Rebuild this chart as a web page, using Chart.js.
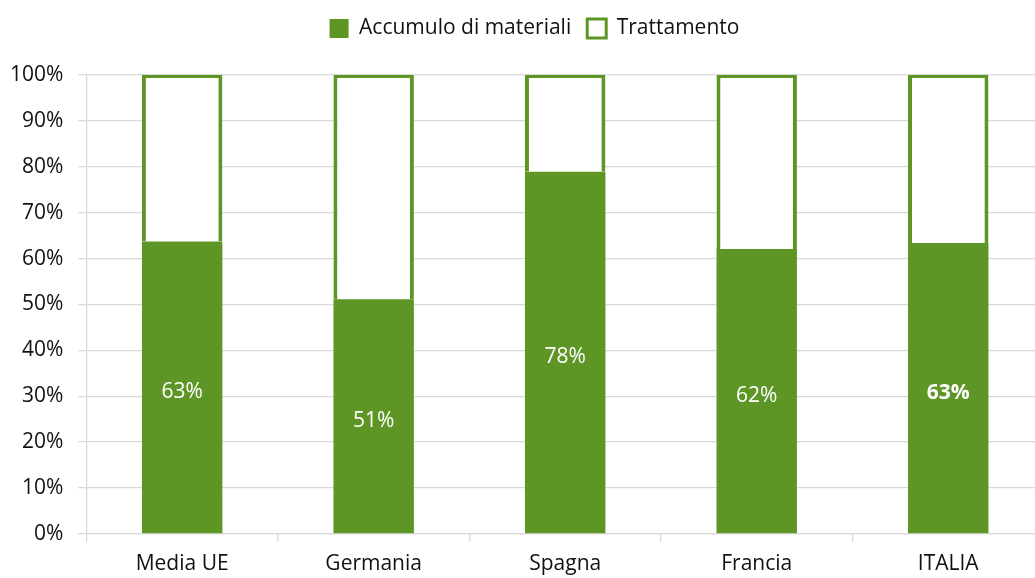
<!DOCTYPE html>
<html>
<head>
<meta charset="utf-8">
<script src="https://cdn.jsdelivr.net/npm/chart.js@4"></script>
<style>
  html, body { margin: 0; padding: 0; background: #fff; overflow: hidden; }
  #wrap { position: absolute; left: 0; top: 0; width: 1035px; height: 578px; overflow: hidden; }
  #c { position: absolute; left: -5px; top: 0; }
</style>
</head>
<body>
<div id="wrap"><canvas id="c" width="1049" height="587"></canvas></div>
<script>
const categories = ['Media UE', 'Germania', 'Spagna', 'Francia', 'ITALIA'];
const accumulo = [63.7, 51.1, 78.9, 62.1, 63.4];
const trattamento = [36.3, 48.9, 21.1, 37.9, 36.6];
const valueLabels = ['63%', '51%', '78%', '62%', '63%'];
const seriesNames = ['Accumulo di materiali', 'Trattamento'];
const yTicks = [0, 10, 20, 30, 40, 50, 60, 70, 80, 90, 100];

const GREEN = '#5e9626';
const GRID = '#d9d9d9';
const TEXT = '#111111';
const FONT = "'Open Sans', 'Noto Sans', sans-serif";
const highlight = 'ITALIA';

const legendSpace = {
  id: 'legendSpace',
  beforeInit(chart) {
    const orig = chart.legend.fit;
    chart.legend.fit = function () { orig.call(this); this.height += 26; };
  },
  afterLayout(chart) {
    chart.legend.left += 15;
    chart.legend.right += 15;
  }
};

const barLabels = {
  id: 'barLabels',
  afterDatasetsDraw(chart) {
    const ctx = chart.ctx;
    const meta = chart.getDatasetMeta(0);
    ctx.save();
    ctx.fillStyle = '#ffffff';
    ctx.textAlign = 'center';
    ctx.textBaseline = 'middle';
    meta.data.forEach((el, i) => {
      const bold = categories[i] === highlight;
      ctx.font = (bold ? 'bold ' : '') + '21px ' + FONT;
      ctx.fillText(valueLabels[i], el.x, (el.y + el.base) / 2 + 5);
    });
    ctx.restore();
  }
};

new Chart(document.getElementById('c'), {
  type: 'bar',
  data: {
    labels: categories,
    datasets: [
      {
        label: seriesNames[0],
        data: accumulo,
        backgroundColor: GREEN,
        borderColor: GREEN,
        borderWidth: 0,
        categoryPercentage: 1,
        barPercentage: 0.42
      },
      {
        label: seriesNames[1],
        data: trattamento,
        backgroundColor: '#ffffff',
        borderColor: GREEN,
        borderWidth: { top: 3, left: 4, right: 4, bottom: 0 },
        borderSkipped: false,
        categoryPercentage: 1,
        barPercentage: 0.42
      }
    ]
  },
  options: {
    responsive: false,
    animation: false,
    devicePixelRatio: 1,
    layout: { padding: { top: 2, left: 0, right: 0, bottom: 0 } },
    plugins: {
      tooltip: { enabled: false },
      legend: {
        position: 'top',
        labels: {
          color: TEXT,
          font: { family: FONT, size: 21 },
          boxWidth: 19,
          boxHeight: 19,
          padding: 16,
          generateLabels(chart) {
            return chart.data.datasets.map((ds, i) => ({
              text: ds.label,
              fillStyle: ds.backgroundColor,
              strokeStyle: GREEN,
              lineWidth: i === 1 ? 3 : 0,
              datasetIndex: i,
              fontColor: TEXT
            }));
          }
        }
      }
    },
    scales: {
      x: {
        stacked: true,
        grid: { display: true, drawOnChartArea: false, color: GRID, tickLength: 8, lineWidth: 1.3, offset: true },
        border: { display: true, color: GRID, width: 1.3 },
        ticks: { color: TEXT, font: { family: FONT, size: 21 }, padding: 10 }
      },
      y: {
        stacked: true,
        min: 0,
        max: 100,
        afterBuildTicks(axis) { axis.ticks = yTicks.map(v => ({ value: v })); },
        grid: { color: GRID, tickLength: 8, lineWidth: 1.3 },
        border: { display: true, color: GRID, width: 1.3 },
        ticks: {
          color: TEXT,
          font: { family: FONT, size: 21 },
          padding: 15,
          callback: v => v + '%'
        }
      }
    }
  },
  plugins: [legendSpace, barLabels]
});
</script>
</body>
</html>
